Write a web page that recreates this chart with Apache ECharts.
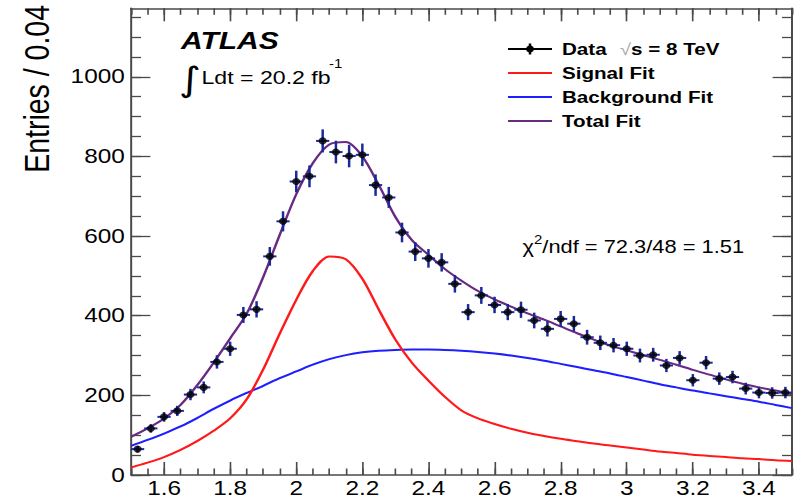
<!DOCTYPE html>
<html>
<head>
<meta charset="utf-8">
<script src="https://cdn.jsdelivr.net/npm/echarts@6/dist/echarts.min.js"></script>
<style>
  html, body { margin: 0; padding: 0; background: #fff; overflow: hidden; }
  #wrap { width: 802px; height: 498px; overflow: hidden; }
  /* the figure is laid out on a narrower canvas and stretched horizontally */
  #chart { width: 642px; height: 498px; transform: scaleX(1.24922); transform-origin: 0 0; }
</style>
</head>
<body>
<div id="wrap"><div id="chart"></div></div>
<script>
// Bin centres (bin width 0.04) and entries per bin
const binCenters = [1.52, 1.56, 1.60, 1.64, 1.68, 1.72, 1.76, 1.80, 1.84, 1.88,
  1.92, 1.96, 2.00, 2.04, 2.08, 2.12, 2.16, 2.20, 2.24, 2.28,
  2.32, 2.36, 2.40, 2.44, 2.48, 2.52, 2.56, 2.60, 2.64, 2.68,
  2.72, 2.76, 2.80, 2.84, 2.88, 2.92, 2.96, 3.00, 3.04, 3.08,
  3.12, 3.16, 3.20, 3.24, 3.28, 3.32, 3.36, 3.40, 3.44, 3.48];
const entries = [65, 117, 146, 161, 202, 220, 284, 317, 402, 416,
  549, 637, 737, 750, 839, 811, 801, 804, 728, 697,
  609, 561, 544, 534, 480, 409, 451, 427, 409, 415,
  388, 367, 392, 380, 346, 332, 326, 317, 300, 302,
  275, 294, 238, 282, 242, 246, 217, 207, 206, 207];
const binHalfWidth = 0.02;

// Fit functions sampled every 0.05 along the mass axis
const fitX = [1.50, 1.55, 1.60, 1.65, 1.70, 1.75, 1.80, 1.85, 1.90, 1.95,
  2.00, 2.05, 2.10, 2.15, 2.20, 2.25, 2.30, 2.35, 2.40, 2.45,
  2.50, 2.55, 2.60, 2.65, 2.70, 2.75, 2.80, 2.85, 2.90, 2.95,
  3.00, 3.05, 3.10, 3.15, 3.20, 3.25, 3.30, 3.35, 3.40, 3.45, 3.50];
const signalFit = [19, 31, 45, 63, 85, 111, 142, 190, 265, 355,
  440, 512, 549, 542, 493, 415, 340, 282, 237, 196,
  162, 142, 128, 116, 106, 98, 91, 85, 79, 74,
  69, 64, 59, 55, 51, 48, 45, 42, 40, 37, 35];
const backgroundFit = [73, 88, 104, 122, 143, 166, 187, 206, 224, 243,
  260, 277, 291, 301, 308, 312, 314, 315, 315, 314,
  312, 309, 305, 300, 294, 287, 279, 271, 263, 255,
  246, 237, 228, 220, 212, 205, 198, 191, 184, 176, 168];
const totalFit = [96, 117, 142, 176, 225, 282, 343, 405, 497, 603,
  705, 783, 830, 836, 800, 728, 648, 590, 553, 517,
  488, 462, 441, 423, 406, 390, 373, 356, 340, 325,
  313, 301, 289, 277, 264, 252, 240, 229, 220, 212, 203];

// Axis ticks
const xMajorTicks = [1.6, 1.8, 2, 2.2, 2.4, 2.6, 2.8, 3, 3.2, 3.4];
const xMinorTicks = Array.from({ length: 41 }, (_, i) => +(1.5 + i * 0.05).toFixed(2));
const yMajorTicks = [0, 200, 400, 600, 800, 1000];
const yMinorTicks = Array.from({ length: 24 }, (_, i) => i * 50);

const X_MIN = 1.5, X_MAX = 3.5, Y_MIN = 0, Y_MAX = 1172;
const S = 802 / 642;               // horizontal stretch of the figure
const u = v => v / S;              // stretched x pixel -> layout pixel
const FONT = '"Liberation Sans", Helvetica, Arial, sans-serif';
const AXIS = '#4a4a4a';
const BAR = '#1a2a9c';
const plain = v => String(v);

function xAxisDef(position, len, ticks, labels) {
  return {
    type: 'value', position, min: X_MIN, max: X_MAX,
    axisLine: { show: labels !== null, onZero: false, lineStyle: { color: AXIS, width: 1.6 } },
    axisTick: { show: true, inside: true, length: len, customValues: ticks, lineStyle: { color: AXIS, width: 1.3 } },
    axisLabel: labels ? { show: true, customValues: labels, formatter: plain, margin: 3, color: '#000', fontSize: 19.5, fontFamily: FONT } : { show: false },
    splitLine: { show: false }
  };
}
function yAxisDef(position, len, ticks, labels) {
  return {
    type: 'value', position, min: Y_MIN, max: Y_MAX,
    axisLine: { show: labels !== null, onZero: false, lineStyle: { color: AXIS, width: 1.6 } },
    axisTick: { show: true, inside: true, length: len, customValues: ticks, lineStyle: { color: AXIS, width: 1.3 } },
    axisLabel: labels ? { show: true, customValues: labels, formatter: plain, margin: 5, color: '#000', fontSize: 19.5, fontFamily: FONT } : { show: false },
    splitLine: { show: false }
  };
}

const chart = echarts.init(document.getElementById('chart'), null, { renderer: 'svg' });

const pairs = (xs, ys) => xs.map((x, i) => [x, ys[i]]);
const fitLine = (name, ys, color, z) => ({
  name, type: 'line', xAxisIndex: 0, yAxisIndex: 0, data: pairs(fitX, ys),
  smooth: 0.3, showSymbol: false, silent: true, z,
  lineStyle: { color, width: 2 }
});

chart.setOption({
  animation: false,
  backgroundColor: '#fff',
  grid: { left: u(131), right: 642 - u(792), top: 8.3, bottom: 21.3, containLabel: false },
  xAxis: [
    xAxisDef('bottom', 13, xMajorTicks, xMajorTicks),
    xAxisDef('bottom', 6.5, xMinorTicks, null),
    xAxisDef('top', 13, xMajorTicks, false),
    xAxisDef('top', 6.5, xMinorTicks, null)
  ],
  yAxis: [
    yAxisDef('left', 15.5, yMajorTicks, yMajorTicks),
    yAxisDef('left', 8, yMinorTicks, null),
    yAxisDef('right', 15.5, yMajorTicks, false),
    yAxisDef('right', 8, yMinorTicks, null)
  ],
  series: [
    fitLine('Background Fit', backgroundFit, '#1e1eff', 2),
    fitLine('Signal Fit', signalFit, '#ff1a1a', 3),
    fitLine('Total Fit', totalFit, '#682a82', 4),
    {
      name: 'Data errors', type: 'custom', xAxisIndex: 0, yAxisIndex: 0, z: 5, silent: true,
      data: binCenters.map((x, i) => [x, entries[i], Math.sqrt(entries[i])]), // Poisson uncertainty
      encode: { x: 0, y: 1 },
      renderItem(params, api) {
        const x = api.value(0), y = api.value(1), e = api.value(2);
        const top = api.coord([x, y + e]), bot = api.coord([x, y - e]);
        const l = api.coord([x - binHalfWidth, y]), r = api.coord([x + binHalfWidth, y]);
        return {
          type: 'group', children: [
            { type: 'line', shape: { x1: top[0], y1: top[1], x2: bot[0], y2: bot[1] }, style: { stroke: BAR, lineWidth: 2 } },
            { type: 'line', shape: { x1: l[0], y1: l[1], x2: r[0], y2: r[1] }, style: { stroke: BAR, lineWidth: 2 } }
          ]
        };
      }
    },
    {
      name: 'Data', type: 'scatter', xAxisIndex: 0, yAxisIndex: 0, z: 6, silent: true,
      data: pairs(binCenters, entries), symbol: 'circle', symbolSize: [6.5, 7],
      itemStyle: { color: '#000' }
    }
  ],
  graphic: [
    { type: 'text', x: u(37), y: 5, rotation: Math.PI / 2,
      style: { text: 'Entries / 0.04', fontSize: 28.5, fontFamily: FONT, fill: '#000', align: 'right', verticalAlign: 'middle' } },
    { type: 'text', x: u(181), y: 41,
      style: { text: 'ATLAS', fontSize: 24, fontWeight: 'bold', fontStyle: 'italic', fontFamily: FONT, fill: '#000', align: 'left', verticalAlign: 'middle' } },
    { type: 'text', x: u(179), y: 79,
      style: { text: '\u222B', fontSize: 34, fontFamily: '"DejaVu Sans", sans-serif', fill: '#000', align: 'left', verticalAlign: 'middle' } },
    { type: 'text', x: u(201.5), y: 77,
      style: { text: 'Ldt = 20.2 fb', fontSize: 18.5, fontFamily: FONT, fill: '#000', align: 'left', verticalAlign: 'middle' } },
    { type: 'text', x: u(329), y: 64,
      style: { text: '-1', fontSize: 12, fontFamily: FONT, fill: '#000', align: 'left', verticalAlign: 'middle' } },
    { type: 'text', x: u(522.5), y: 245,
      style: {
        text: '{n|\u03C7}{s|2}{n|/ndf = 72.3/48 = 1.51}', align: 'left', verticalAlign: 'middle',
        rich: {
          n: { fontSize: 17.5, fontFamily: FONT, fill: '#000', lineHeight: 22, verticalAlign: 'bottom' },
          s: { fontSize: 12, fontFamily: FONT, fill: '#000', lineHeight: 22, verticalAlign: 'top' }
        }
      } },
    // legend: data marker with error bar
    { type: 'line', shape: { x1: u(508), y1: 49, x2: u(552), y2: 49 }, style: { stroke: '#000', lineWidth: 2 } },
    { type: 'line', shape: { x1: u(530), y1: 43.5, x2: u(530), y2: 54.5 }, style: { stroke: '#000', lineWidth: 2 } },
    { type: 'ellipse', shape: { cx: u(530), cy: 49, rx: 3.2, ry: 3.5 }, style: { fill: '#000' } },
    { type: 'text', x: u(562), y: 49,
      style: {
        text: '{b|Data}{r|\u221A}{b|s = 8 TeV}', align: 'left', verticalAlign: 'middle',
        rich: {
          b: { fontSize: 16.5, fontWeight: 'bold', fontFamily: FONT, fill: '#000' },
          r: { fontSize: 16.5, fontFamily: FONT, fill: '#aaa', padding: [0, 0, 0, 10.5] }
        }
      } },
    { type: 'line', shape: { x1: u(508), y1: 73, x2: u(552), y2: 73 }, style: { stroke: '#ff1a1a', lineWidth: 2 } },
    { type: 'text', x: u(562), y: 73, style: { text: 'Signal Fit', fontSize: 16.5, fontWeight: 'bold', fontFamily: FONT, fill: '#000', align: 'left', verticalAlign: 'middle' } },
    { type: 'line', shape: { x1: u(508), y1: 97, x2: u(552), y2: 97 }, style: { stroke: '#1e1eff', lineWidth: 2 } },
    { type: 'text', x: u(562), y: 97, style: { text: 'Background Fit', fontSize: 16.5, fontWeight: 'bold', fontFamily: FONT, fill: '#000', align: 'left', verticalAlign: 'middle' } },
    { type: 'line', shape: { x1: u(508), y1: 121, x2: u(552), y2: 121 }, style: { stroke: '#682a82', lineWidth: 2 } },
    { type: 'text', x: u(562), y: 121, style: { text: 'Total Fit', fontSize: 16.5, fontWeight: 'bold', fontFamily: FONT, fill: '#000', align: 'left', verticalAlign: 'middle' } }
  ]
});
</script>
</body>
</html>
